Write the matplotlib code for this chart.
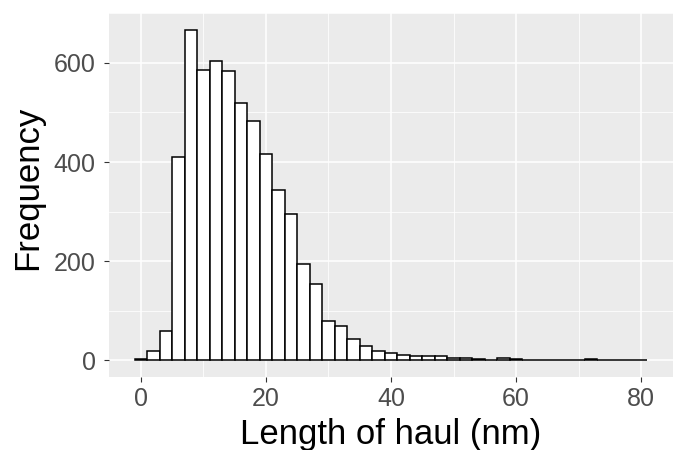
import numpy as np
from matplotlib import pyplot as plt
from matplotlib.ticker import MultipleLocator

# histogram bins (centres, width 2) and counts
bin_centres = list(range(0, 82, 2))
counts = [3, 19, 60, 410, 667, 585, 603, 583, 518, 482,
          417, 344, 296, 194, 154, 79, 70, 43, 29, 19,
          15, 11, 8, 8, 8, 5, 4, 3, 1, 5,
          2, 1, 1, 0, 0, 0, 2, 0, 0, 0, 1]
bin_width = 2
x_ticks = [0, 20, 40, 60, 80]
y_ticks = [0, 200, 400, 600]

plt.rcParams['font.family'] = ['Liberation Sans', 'DejaVu Sans']

fig = plt.figure(figsize=(6.76, 4.5), dpi=100)
ax = fig.add_axes([109 / 676, 73 / 450, 564 / 676, 364 / 450])
ax.set_facecolor('#EBEBEB')

ax.bar(bin_centres, counts, width=bin_width, color='white',
       edgecolor='black', linewidth=1.1, zorder=3)

lo = bin_centres[0] - bin_width / 2
hi = bin_centres[-1] + bin_width / 2
pad = 0.05 * (hi - lo)
ax.set_xlim(lo - pad, hi + pad)
top = max(counts)
ax.set_ylim(-0.05 * top, 1.05 * top)

ax.set_xticks(x_ticks)
ax.set_yticks(y_ticks)
ax.xaxis.set_minor_locator(MultipleLocator(10))
ax.yaxis.set_minor_locator(MultipleLocator(100))
ax.grid(True, which='major', color='white', linewidth=1.1, zorder=0)
ax.grid(True, which='minor', color='white', linewidth=0.55, zorder=0)
ax.set_axisbelow(True)
for s in ax.spines.values():
    s.set_visible(False)

ax.tick_params(which='major', length=3.5, width=0.8, color='#333333',
               labelsize=18, labelcolor='#4D4D4D')
ax.tick_params(axis='y', which='major', pad=6)
ax.tick_params(which='minor', length=0)

ax.set_xlabel('Length of haul (nm)', fontsize=25, color='black', labelpad=5.5)
ax.set_ylabel('Frequency', fontsize=25, color='black', labelpad=7, y=0.52)

fig.savefig('out.png', dpi=100)
